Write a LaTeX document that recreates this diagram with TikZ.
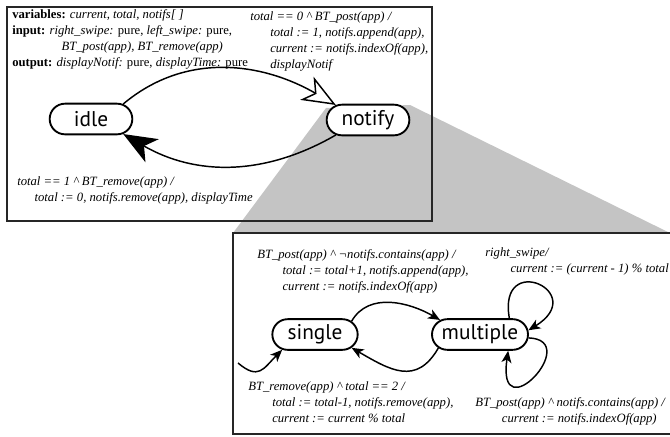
\documentclass[tikz,border=0pt]{standalone}
\usepackage{fontspec}
\setmainfont{Liberation Serif}
\newfontfamily\statefont{PT Sans}
\usetikzlibrary{arrows.meta,shapes.misc}
\tikzset{
  fsmstate/.style={rounded rectangle, draw, line width=1.4pt, fill=white,
    minimum height=23pt, inner sep=0pt, font=\statefont\fontsize{16}{16}\selectfont},
  frame/.style={draw=black!85, line width=1.5pt},
  lbl/.style={anchor=north west, inner sep=0pt, align=left,
    font=\fontsize{9.5}{12}\selectfont\itshape},
  trans/.style={line width=1.1pt},
  small/.style={trans, -{Stealth[length=9pt,width=7.5pt,inset=2.5pt]}}
}
\newcommand{\ind}[1]{\hspace*{#1}}
\begin{document}
\begin{tikzpicture}[x=0.75pt,y=0.75pt]
\useasboundingbox (0,0) rectangle (670,-436);
\fill[black!23] (326,-108) -- (410,-105) -- (670,-233) -- (233,-233) -- cycle;
\draw[frame] (7,-7) rectangle (432,-221);
\draw[frame, fill=white] (233,-233) rectangle (673,-434);

% top level
\node[fsmstate, minimum width=62pt] (idle) at (91,-119) {idle};
\node[fsmstate, minimum width=62pt] (notify) at (368,-120) {notify};

\node[lbl, font=\fontsize{9.5}{12}\selectfont] (vars) at (12,-9)
  {\textbf{variables:} \textit{current, total, notifs[ ]}\\
   \textbf{input:} \textit{right\_swipe:} pure, \textit{left\_swipe:} pure,\\
   \ind{37pt}\textit{BT\_post(app), BT\_remove(app)}\\
   \textbf{output:} \textit{displayNotif:} pure, \textit{displayTime:} pure};

\draw[trans, -{Stealth[open, fill=white, length=25pt, width=20pt, inset=7pt]}]
  (idle.25) to[out=40, in=150] (notify.155);
\draw[trans, -{Stealth[length=25pt, width=20pt, inset=7pt]}]
  (notify.205) to[out=-150, in=-30] (idle.-25);

\node[lbl] (post) at (250,-11)
  {total == 0 \textasciicircum{} BT\_post(app) /\\
   \ind{15pt}total := 1, notifs.append(app),\\
   \ind{15pt}current := notifs.indexOf(app),\\
   \ind{15pt}displayNotif};
\node[lbl] (remove) at (17,-176)
  {total == 1 \textasciicircum{} BT\_remove(app) /\\
   \ind{13pt}total := 0, notifs.remove(app), displayTime};

% inside notify
\node[fsmstate, minimum width=64pt] (single) at (315,-334.5) {single};
\node[fsmstate, minimum width=72pt] (multiple) at (480,-334.5) {multiple};
\coordinate (start) at (238,-363);

\draw[small] (start) to[out=-40, in=-135, looseness=1.5] (single.205);
\draw[small] (single.20) to[out=60, in=150] (multiple.160);
\draw[small] (multiple.198) to[out=-120, in=-30, looseness=1.3] (single.-20);
\draw[small] (multiple.29) .. controls +(-12,68) and +(62,38) .. (multiple.5);
\draw[small] (multiple.-4) .. controls +(55,-2) and +(-12,-82) .. (multiple.-30);

\node[lbl] (newapp) at (257,-249)
  {BT\_post(app) \textasciicircum{} ¬notifs.contains(app) /\\
   \ind{19pt}total := total+1, notifs.append(app),\\
   \ind{19pt}current := notifs.indexOf(app)};
\node[lbl] (swipe) at (485,-247)
  {right\_swipe/\\
   \ind{19pt}current := (current - 1) \% total};
\node[lbl] (drop) at (248,-381)
  {BT\_remove(app) \textasciicircum{} total == 2 /\\
   \ind{18pt}total := total-1, notifs.remove(app),\\
   \ind{18pt}current := current \% total};
\node[lbl] (again) at (475,-397)
  {BT\_post(app) \textasciicircum{} notifs.contains(app) /\\
   \ind{20pt}current := notifs.indexOf(app)};
\end{tikzpicture}
\end{document}
